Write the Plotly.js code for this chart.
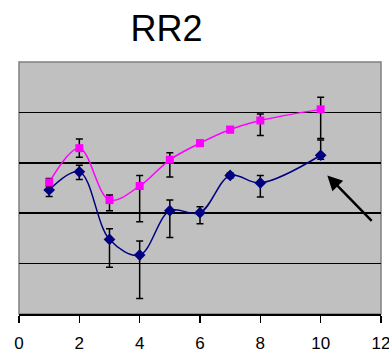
<!DOCTYPE html>
<html>
<head>
<meta charset="utf-8">
<script src="https://cdn.plot.ly/plotly-3.0.1.min.js"></script>
<style>html,body{margin:0;padding:0;background:#fff;}#chart{width:389px;height:353px;}</style>
</head>
<body>
<div id="chart"></div>
<script>
var xValues = [1, 2, 3, 4, 5, 6, 7, 8, 10];
var pinkValues = [2.61, 3.29, 2.26, 2.54, 3.06, 3.39, 3.66, 3.84, 4.06];
var pinkErrPlus = [0.08, 0.18, 0.10, 0.21, 0.14, 0.05, 0.05, 0.13, 0.24];
var pinkErrMinus = [0.08, 0.18, 0.21, 0.71, 0.34, 0.05, 0.06, 0.30, 0.58];
var blueValues = [2.46, 2.82, 1.48, 1.17, 2.05, 2.01, 2.75, 2.60, 3.15];
var blueErrPlus = [0.13, 0.13, 0.21, 0.28, 0.21, 0.12, 0.05, 0.15, 0.30];
var blueErrMinus = [0.13, 0.15, 0.55, 0.86, 0.53, 0.22, 0.05, 0.28, 0.08];
var xTicks = [0, 2, 4, 6, 8, 10, 12];

var errStyle = {color: '#000000', thickness: 1.5, width: 3.5};

var traces = [
  {
    x: xValues, y: blueValues, type: 'scatter', mode: 'lines+markers',
    line: {color: '#000080', width: 1.5, shape: 'spline', smoothing: 1},
    marker: {symbol: 'diamond', size: 9, color: '#000080'},
    error_y: Object.assign({type: 'data', symmetric: false, array: blueErrPlus, arrayminus: blueErrMinus}, errStyle),
    showlegend: false
  },
  {
    x: xValues, y: pinkValues, type: 'scatter', mode: 'lines+markers',
    line: {color: '#FF00FF', width: 1.5, shape: 'spline', smoothing: 1},
    marker: {symbol: 'square', size: 8, color: '#FF00FF'},
    error_y: Object.assign({type: 'data', symmetric: false, array: pinkErrPlus, arrayminus: pinkErrMinus}, errStyle),
    showlegend: false
  }
];

var layout = {
  width: 389, height: 353,
  margin: {l: 19, r: 8, t: 62, b: 39, pad: 0},
  paper_bgcolor: '#ffffff',
  plot_bgcolor: '#C0C0C0',
  font: {family: 'Liberation Sans, Arial, sans-serif', color: '#000000'},
  title: {
    text: 'RR2',
    font: {family: 'Liberation Sans, Arial, sans-serif', size: 36, color: '#000000'},
    xref: 'container', x: 0.428, xanchor: 'center',
    yref: 'container', y: 0.885, yanchor: 'bottom'
  },
  xaxis: {
    range: [0, 12], tickvals: xTicks, ticktext: xTicks.map(String),
    showgrid: false, zeroline: false,
    showline: true, linecolor: '#000000', linewidth: 1.5,
    ticks: 'outside', ticklen: 7, tickwidth: 1.5, tickcolor: '#000000',
    ticklabeloverflow: 'allow', ticklabelstandoff: 6,
    tickfont: {size: 17, family: 'Liberation Sans, Arial, sans-serif', color: '#000000'},
    fixedrange: true
  },
  yaxis: {
    range: [0, 5], dtick: 1, tick0: 0,
    showticklabels: false, ticks: '',
    showgrid: true, gridcolor: '#000000', gridwidth: 1.5,
    zeroline: false, showline: false,
    fixedrange: true
  },
  shapes: [
    {type: 'rect', xref: 'paper', yref: 'paper', x0: 0, x1: 1, y0: 0, y1: 1,
     line: {color: '#808080', width: 1.5}, fillcolor: 'rgba(0,0,0,0)', layer: 'below'}
  ],
  annotations: [
    {x: 10.22, y: 2.75, xref: 'x', yref: 'y', ax: 11.74, ay: 1.82, axref: 'x', ayref: 'y',
     text: '', showarrow: true, arrowhead: 2, arrowsize: 1.2, arrowwidth: 2.5, arrowcolor: '#000000'}
  ]
};

Plotly.newPlot('chart', traces, layout, {displayModeBar: false, staticPlot: true});
</script>
</body>
</html>
